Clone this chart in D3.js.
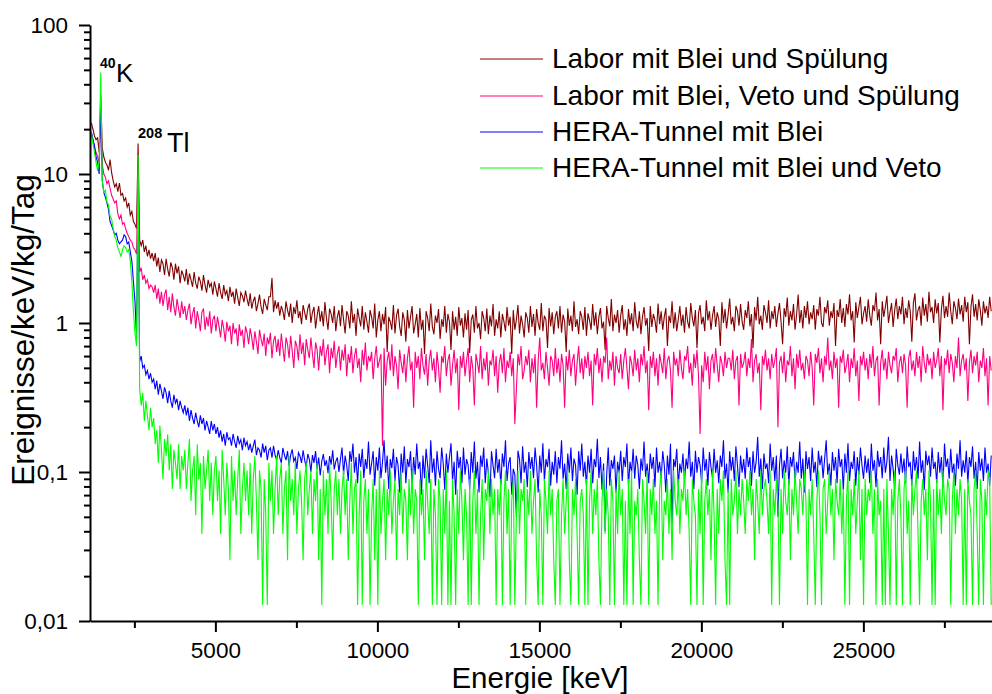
<!DOCTYPE html>
<html><head><meta charset="utf-8">
<script src="https://cdn.jsdelivr.net/npm/d3@7"></script>
<style>
body{margin:0;background:#fff}
svg{display:block}
text{font-family:"Liberation Sans",Arial,sans-serif;fill:#000}
</style>
</head><body>
<svg id="chart" width="992" height="694"></svg>
<script>
// ---- data ----
const energyStart = 1172.7;   // keV, first channel
const channelWidth = 48.05;   // keV per channel
const seriesNames = ["Labor mit Blei und Spülung","Labor mit Blei, Veto und Spülung","HERA-Tunnel mit Blei","HERA-Tunnel mit Blei und Veto"];
const seriesColors = ["#800000","#ff0080","#0000ff","#00ff00"];

const laborBlei = [
22,20,18,17,17.5,14,34,15,13,12,11.5,10.6,12.5,10.2,9.0,8.2,8.6,7.6,8.7,7.2,
7.4,6.6,6.9,6.0,6.4,5.3,5.6,4.8,4.6,4.3,16,3.6,3.3,3.6,3.0,3.3,2.8,3.1,2.7,2.95,
2.6,2.95,2.4,2.75,2.2,2.65,2.5,2.1,2.7,2.3,2.05,2.55,2.35,1.95,2.5,2.15,2.4,1.85,2.25,2.1,
1.9,2.3,1.8,2.15,1.95,1.75,2.2,1.85,1.7,2.05,1.9,1.65,2.1,1.8,1.6,1.95,1.75,1.85,1.55,1.9,
1.7,1.5,1.85,1.6,1.45,1.8,1.55,1.65,1.4,1.75,1.5,1.62,1.35,1.7,1.48,1.3,1.6,1.52,1.38,1.65,
1.45,1.3,1.58,1.25,1.4,1.5,1.2,1.35,1.55,1.28,1.15,1.45,1.32,1.22,1.5,1.5,2.0,1.18,1.42,1.25,
1.38,1.12,1.3,1.2,1.05,1.4,1.22,1.1,1.35,1.0,1.28,1.15,1.42,1.08,1.2,0.98,1.32,1.18,1.05,1.25,
1.35,1.0,1.18,1.28,0.92,1.12,1.3,1.02,1.2,0.95,1.38,1.08,0.9,1.25,1.15,1.0,1.3,0.88,1.1,1.22,
0.95,1.32,1.05,0.85,1.2,1.12,0.92,1.4,1.0,1.15,0.82,1.25,1.08,0.95,1.3,0.9,1.18,1.02,0.86,1.22,
1.1,0.92,1.35,0.8,1.05,1.2,0.88,1.15,0.98,1.28,0.64,1.1,1.02,0.9,1.32,0.85,1.12,1.25,0.95,0.82,
1.18,1.05,0.75,1.22,0.92,1.1,1.3,0.85,0.98,1.15,0.8,1.26,0.9,1.05,0.62,1.2,1.08,0.88,1.35,0.95,
0.84,1.12,1.0,1.24,0.78,1.06,0.94,1.3,0.86,1.15,1.02,0.66,1.2,0.9,1.1,0.82,1.28,0.96,1.08,0.8,
1.16,0.9,1.22,0.63,1.05,1.14,0.86,1.3,0.92,1.0,0.78,1.2,1.08,0.88,1.25,0.84,1.12,0.95,1.34,0.82,
1.06,0.92,1.2,0.8,1.15,1.02,0.88,1.28,0.96,1.1,0.62,1.22,0.9,1.05,1.32,0.85,1.12,0.98,0.8,1.18,
1.08,0.86,1.3,0.94,1.15,0.82,1.24,1.0,0.9,1.36,0.88,1.12,1.05,0.68,1.26,0.95,1.18,0.84,1.1,1.2,
0.92,1.3,0.86,1.14,1.02,0.64,1.25,0.96,1.12,0.88,1.4,0.94,1.06,0.84,1.2,1.1,0.9,1.28,0.82,1.16,
1.04,0.9,1.34,0.96,1.18,0.84,1.1,1.26,0.92,1.02,0.66,1.3,1.08,0.95,1.45,0.88,1.14,1.0,1.22,0.86,
1.12,1.32,0.9,1.06,0.82,1.24,0.98,1.16,0.88,1.38,1.02,0.92,1.2,0.84,1.1,1.28,0.96,1.08,0.65,1.3,
0.94,1.15,1.04,0.86,1.35,0.98,1.2,0.9,1.1,1.26,0.7,1.12,1.0,1.4,0.92,1.18,0.88,1.06,1.3,0.96,
1.14,0.86,1.28,1.02,0.92,1.36,1.08,0.95,1.22,0.68,1.16,1.32,0.98,1.1,0.88,1.42,1.04,1.2,0.9,1.12,
1.3,0.94,1.18,1.06,0.7,1.38,1.0,1.24,0.92,1.14,1.46,0.98,1.1,0.88,1.3,1.2,0.96,1.34,1.02,0.9,
1.22,1.08,1.4,0.95,1.15,0.68,1.28,1.04,1.5,0.98,1.12,0.9,1.32,1.18,1.0,1.42,0.92,1.2,1.06,1.3,
0.94,1.16,1.36,1.02,0.72,1.26,1.1,1.48,0.96,1.2,1.04,1.34,0.9,1.14,1.55,1.0,1.22,0.92,1.3,1.08,
1.4,0.98,1.18,1.06,1.32,0.9,1.24,1.12,1.5,1.0,0.94,1.28,1.16,1.42,0.96,1.2,1.08,1.36,0.7,1.22,
1.1,1.45,1.0,1.26,0.94,1.34,1.14,1.56,1.04,1.2,0.74,1.38,1.08,1.28,1.5,0.98,1.16,1.3,1.02,1.44,
1.12,0.96,1.32,1.2,1.6,1.04,1.24,0.72,1.4,1.1,1.28,1.52,1.0,1.18,1.36,0.94,1.22,1.46,1.06,1.3,
1.14,1.5,0.98,1.26,1.08,1.42,1.2,0.75,1.36,1.58,1.04,1.22,1.3,0.96,1.48,1.12,1.34,1.02,1.62,1.18,
1.28,1.0,1.44,1.16,1.36,0.74,1.24,1.52,1.08,1.3,1.1,1.6,1.2,0.98,1.4,1.26,1.06,1.46,1.14,1.32,
1.02,1.5,1.18,1.38,0.72,1.28,1.56,1.1,1.34,1.04,1.44,1.22,0.96,1.4,1.16,1.3,1.08,1.5,1.2];

const laborVeto = [
19,17,15,14,13,12,26,11.5,10,9.5,8.6,9,8.0,7.2,6.8,6.4,6.6,5.4,5.0,5.3,
4.6,4.7,4.3,4.0,3.8,3.6,3.5,3.2,3.1,2.9,10,2.2,2.35,1.95,2.1,1.85,1.95,1.7,1.8,1.75,
1.6,1.8,1.45,1.7,1.35,1.62,1.3,1.55,1.68,1.22,1.5,1.18,1.58,1.28,1.12,1.45,1.25,1.08,1.4,1.15,
1.3,1.05,1.22,1.35,0.98,1.15,1.28,0.92,1.2,1.05,0.88,1.18,1.25,0.9,1.1,0.95,1.2,0.85,1.05,1.12,
0.88,1.1,0.95,0.8,1.05,0.92,0.75,1.02,0.88,0.96,0.72,1.0,0.85,0.92,0.7,0.98,0.82,0.9,0.68,0.95,
0.86,0.72,0.92,0.8,0.66,0.88,0.75,0.62,0.9,0.78,0.7,0.85,0.6,0.8,0.72,0.86,0.58,0.76,0.82,0.64,
0.78,0.6,0.85,0.68,0.55,0.8,0.72,0.58,0.82,0.65,0.5,0.76,0.7,0.56,0.84,0.62,0.74,0.52,0.78,0.66,
0.58,0.8,0.62,0.5,0.74,0.66,0.48,0.7,0.6,0.78,0.52,0.64,0.72,0.46,0.68,0.58,0.76,0.5,0.62,0.7,
0.48,0.66,0.56,0.72,0.44,0.62,0.54,0.7,0.46,0.6,0.68,0.5,0.58,0.4,0.66,0.52,0.74,0.48,0.6,0.55,
0.64,0.42,0.58,0.7,0.5,0.56,0.62,0.15,0.68,0.38,0.56,0.64,0.48,0.72,0.44,0.6,0.52,0.36,0.66,0.54,
0.46,0.62,0.4,0.58,0.7,0.48,0.55,0.27,0.64,0.5,0.6,0.42,0.68,0.52,0.45,0.62,0.38,0.56,0.66,0.48,
0.58,0.4,0.64,0.5,0.34,0.6,0.54,0.7,0.44,0.56,0.62,0.38,0.52,0.66,0.46,0.58,0.26,0.6,0.5,0.64,
0.44,0.56,0.68,0.4,0.6,0.5,0.28,0.62,0.54,0.46,0.7,0.42,0.58,0.48,0.64,0.38,0.56,0.52,0.66,0.44,
0.6,0.34,0.54,0.62,0.46,0.68,0.4,0.56,0.5,0.64,0.44,0.58,0.21,0.36,0.62,0.52,0.7,0.42,0.48,0.6,
0.52,0.66,0.4,0.58,0.46,0.62,0.27,0.56,0.8,0.48,0.54,0.42,0.64,0.5,0.38,0.6,0.56,0.44,0.68,0.46,
0.58,0.4,0.62,0.52,0.27,0.6,0.48,0.66,0.44,0.56,0.62,0.38,0.54,0.7,0.46,0.58,0.42,0.6,0.5,0.64,
0.44,0.56,0.28,0.62,0.52,0.68,0.46,0.58,0.4,0.6,0.54,0.8,0.42,0.56,0.48,0.64,0.38,0.6,0.5,0.46,
0.62,0.42,0.56,0.68,0.5,0.36,0.6,0.54,0.44,0.66,0.48,0.58,0.4,0.62,0.52,0.7,0.46,0.56,0.26,0.6,
0.5,0.64,0.44,0.58,0.38,0.62,0.54,0.46,0.68,0.42,0.56,0.6,0.48,0.27,0.64,0.52,0.58,0.44,0.66,0.5,
0.42,0.6,0.56,0.7,0.46,0.54,0.38,0.62,0.5,0.66,0.44,0.18,0.52,0.4,0.64,0.48,0.6,0.36,0.56,0.62,
0.46,0.68,0.52,0.4,0.6,0.54,0.44,0.64,0.5,0.58,0.58,0.48,0.66,0.42,0.56,0.6,0.28,0.62,0.5,0.54,
0.64,0.44,0.58,0.5,0.78,0.4,0.56,0.62,0.46,0.54,0.26,0.6,0.52,0.66,0.48,0.58,0.42,0.62,0.5,0.56,
0.68,0.2,0.54,0.6,0.46,0.64,0.4,0.56,0.52,0.7,0.44,0.58,0.36,0.62,0.5,0.66,0.48,0.54,0.42,0.6,
0.56,0.44,0.64,0.5,0.28,0.62,0.54,0.68,0.46,0.58,0.4,0.6,0.52,0.8,0.48,0.56,0.42,0.64,0.5,0.58,
0.27,0.6,0.54,0.66,0.46,0.52,0.62,0.4,0.58,0.5,0.68,0.44,0.56,0.3,0.6,0.52,0.64,0.48,0.58,0.42,
0.62,0.5,0.7,0.44,0.56,0.6,0.28,0.54,0.66,0.48,0.58,0.42,0.64,0.52,0.46,0.6,0.56,0.68,0.4,0.54,
0.6,0.46,0.62,0.52,0.27,0.58,0.66,0.48,0.56,0.44,0.64,0.5,0.6,0.4,0.7,0.54,0.46,0.62,0.52,0.58,
0.42,0.64,0.5,0.56,0.68,0.44,0.6,0.26,0.58,0.52,0.66,0.46,0.62,0.54,0.4,0.6,0.5,0.8,0.44,0.56,
0.62,0.48,0.58,0.3,0.54,0.66,0.46,0.6,0.52,0.64,0.4,0.56,0.5,0.68,0.44,0.58,0.28,0.6,0.48];

const heraBlei = [
19,17,15.5,13,12,10,30,9,7.5,7.0,6.4,5.8,4.8,4.5,4.2,3.9,4.0,3.6,3.4,3.5,
3.6,3.9,3.8,3.4,3.5,3.0,2.6,1.9,1.4,0.8,8,0.55,0.6,0.5,0.52,0.45,0.48,0.42,0.46,0.4,
0.42,0.36,0.41,0.33,0.39,0.35,0.31,0.37,0.34,0.29,0.35,0.3,0.27,0.33,0.29,0.31,0.26,0.3,0.27,0.25,
0.28,0.24,0.27,0.22,0.26,0.23,0.21,0.25,0.22,0.2,0.24,0.21,0.23,0.19,0.22,0.2,0.18,0.22,0.19,0.21,
0.18,0.2,0.17,0.19,0.16,0.18,0.15,0.185,0.165,0.17,0.15,0.18,0.16,0.145,0.175,0.155,0.165,0.14,0.17,0.15,
0.16,0.14,0.155,0.135,0.15,0.165,0.13,0.145,0.14,0.125,0.155,0.135,0.15,0.12,0.14,0.145,0.125,0.15,0.13,0.12,
0.14,0.125,0.115,0.145,0.13,0.12,0.138,0.11,0.13,0.142,0.118,0.125,0.105,0.135,0.128,0.115,0.14,0.12,0.108,0.132,
0.122,0.1,0.13,0.115,0.138,0.105,0.125,0.095,0.118,0.132,0.11,0.12,0.098,0.128,0.112,0.14,0.104,0.118,0.125,0.1,
0.122,0.146,0.096,0.129,0.111,0.087,0.138,0.117,0.155,0.099,0.126,0.084,0.133,0.108,0.143,0.091,0.122,0.105,0.16,0.096,
0.114,0.138,0.081,0.126,0.102,0.146,0.091,0.117,0.163,0.099,0.129,0.077,0.122,0.106,0.143,0.087,0.126,0.111,0.073,0.133,
0.099,0.149,0.084,0.122,0.108,0.138,0.079,0.126,0.096,0.155,0.105,0.117,0.0705,0.129,0.091,0.143,0.111,0.084,0.163,0.099,
0.123,0.081,0.138,0.105,0.091,0.146,0.114,0.076,0.133,0.099,0.126,0.156,0.087,0.117,0.0705,0.139,0.106,0.126,0.084,0.146,
0.096,0.122,0.111,0.077,0.136,0.099,0.16,0.09,0.117,0.073,0.129,0.108,0.146,0.084,0.123,0.099,0.068,0.138,0.111,0.091,
0.143,0.099,0.122,0.081,0.133,0.108,0.163,0.087,0.114,0.126,0.0705,0.105,0.096,0.05,0.139,0.122,0.084,0.149,0.099,0.117,
0.079,0.136,0.105,0.126,0.091,0.146,0.111,0.073,0.129,0.099,0.156,0.087,0.122,0.108,0.143,0.081,0.117,0.096,0.138,0.084,
0.126,0.105,0.163,0.09,0.114,0.077,0.133,0.099,0.146,0.087,0.123,0.111,0.0705,0.138,0.102,0.155,0.093,0.117,0.081,0.129,
0.099,0.143,0.084,0.122,0.108,0.167,0.091,0.126,0.076,0.114,0.04,0.096,0.146,0.081,0.12,0.105,0.129,0.073,0.117,0.099,
0.139,0.087,0.126,0.108,0.155,0.081,0.117,0.099,0.143,0.09,0.129,0.111,0.077,0.123,0.102,0.16,0.093,0.114,0.084,0.133,
0.105,0.126,0.079,0.146,0.099,0.117,0.09,0.138,0.111,0.073,0.129,0.096,0.155,0.045,0.122,0.108,0.143,0.081,0.114,0.099,
0.133,0.087,0.123,0.105,0.16,0.093,0.117,0.077,0.139,0.099,0.126,0.111,0.084,0.146,0.102,0.122,0.081,0.136,0.108,0.091,
0.143,0.099,0.12,0.084,0.129,0.108,0.163,0.09,0.114,0.073,0.138,0.102,0.126,0.087,0.149,0.111,0.079,0.129,0.099,0.122,
0.09,0.146,0.108,0.126,0.081,0.138,0.099,0.117,0.172,0.093,0.123,0.077,0.133,0.105,0.114,0.084,0.155,0.102,0.126,0.087,
0.129,0.05,0.111,0.143,0.091,0.12,0.099,0.149,0.081,0.126,0.108,0.136,0.084,0.117,0.099,0.16,0.09,0.123,0.073,0.138,
0.105,0.126,0.087,0.146,0.099,0.117,0.079,0.139,0.111,0.129,0.091,0.122,0.163,0.096,0.114,0.081,0.136,0.102,0.126,0.084,
0.143,0.108,0.122,0.076,0.133,0.099,0.156,0.087,0.117,0.105,0.138,0.081,0.126,0.096,0.146,0.111,0.09,0.129,0.099,0.123,
0.084,0.155,0.102,0.12,0.079,0.139,0.108,0.126,0.091,0.146,0.099,0.117,0.172,0.087,0.129,0.105,0.077,0.143,0.111,0.096,
0.133,0.099,0.123,0.084,0.149,0.108,0.117,0.081,0.138,0.102,0.126,0.09,0.16,0.099,0.12,0.076,0.139,0.111,0.129,0.093,
0.146,0.105,0.117,0.084,0.136,0.099,0.126,0.079,0.155,0.108,0.123,0.09,0.143,0.099,0.114,0.081,0.133,0.105,0.163,0.093,
0.12,0.099,0.139,0.084,0.126,0.108,0.149,0.09,0.117,0.077,0.136,0.102,0.123,0.087,0.146,0.099,0.114,0.081,0.129];

const heraVeto = [
19,16,14,12,10.5,12,48,9,7.5,7.8,6.5,6.2,5.2,5.0,4.3,3.8,3.6,3.2,3.0,2.8,
3.1,3.3,3.2,3.0,3.1,2.6,1.9,1.2,0.85,0.7,13.4,0.36,0.28,0.34,0.22,0.3,0.24,0.19,0.27,0.2,
.2304,.1536,.192,.1152,.2048,.1408,.0896,.1664,.128,.1792,.1024,.1536,.0768,.1408,.1152,.0896,.1536,.0768,.128,.1024,
.1408,.0768,.1152,.1664,.064,.1024,.128,.0512,.1536,.0896,.1152,.0384,.128,.0768,.1024,.1408,.064,.1152,.0512,.1024,
.128,.064,.1024,.0384,.1408,.0896,.0512,.1152,.0768,.0256,.128,.064,.1024,.0512,.0896,.1408,.0384,.0768,.1152,.064,
.1024,.0512,.1152,.0384,.0896,.128,.064,.0256,.1024,.0768,.0128,.0896,.0512,.0128,.1152,.064,.1024,.0384,.0768,.128,
.0512,.0896,.1152,.0384,.0768,.1024,.0256,.128,.064,.0896,.0512,.1152,.0384,.0768,.1024,.064,.0256,.0896,.1152,.0512,
.0768,.1024,.0384,.0896,.064,.1152,.0256,.0768,.0128,.1024,.0512,.0896,.0384,.1152,.064,.0256,.0768,.1024,.0512,.0896,
.0384,.0768,.1024,.0512,.0896,.0256,.064,.1152,.0384,.0768,.0896,.0128,.0512,.1024,.0128,.064,.0896,.0384,.0768,.0128,
.0512,.0896,.0256,.0768,.0128,.1024,.0384,.064,.0896,.0256,.0768,.0512,.1024,.0384,.064,.0896,.0256,.0768,.0512,.1024,
.0384,.0768,.064,.0256,.0896,.0512,.1024,.0384,.0768,.064,.0128,.0896,.0512,.0768,.0256,.1024,.064,.0384,.0896,.0128,
.0768,.0512,.0128,.0896,.064,.0128,.0768,.0384,.1024,.0128,.064,.0128,.0896,.0512,.0128,.0768,.0384,.1024,.064,.0256,
.0768,.0512,.0128,.0896,.0128,.064,.1024,.0384,.0768,.0128,.0512,.0896,.0256,.0768,.064,.1024,.0384,.0896,.0512,.0768,
.0128,.0768,.0512,.0896,.0128,.064,.1024,.0384,.0768,.0128,.064,.0896,.0128,.0512,.1024,.0384,.0768,.064,.0896,.0128,
.0768,.0512,.1024,.0384,.064,.0896,.0256,.0128,.0768,.0512,.0128,.0896,.064,.0384,.1024,.0512,.0768,.0256,.0128,.064,
.0768,.0128,.0512,.0896,.0384,.064,.1024,.0256,.0128,.0768,.0512,.0896,.0384,.0128,.064,.0768,.0512,.0128,.0896,.0128,
.064,.1024,.0384,.0768,.0512,.0896,.0256,.0128,.064,.1024,.0384,.0768,.0512,.0128,.0896,.064,.0128,.0768,.0384,.1024,
.0512,.0768,.0128,.064,.0128,.0896,.0384,.1024,.0128,.064,.0512,.0768,.0256,.0128,.0896,.064,.0384,.1024,.0128,.0768,
.0512,.0896,.0384,.064,.0128,.0768,.1024,.0256,.064,.0512,.0896,.0384,.0768,.0256,.1024,.064,.0512,.0896,.0384,.0768,
.064,.1024,.0512,.0768,.0384,.0128,.0896,.064,.0512,.0128,.0768,.0384,.1024,.0128,.064,.0896,.0512,.0768,.0256,.1024,
.0512,.0128,.0768,.0384,.0896,.064,.1024,.0256,.0128,.0768,.0128,.0896,.0512,.064,.1024,.0384,.0768,.0512,.0896,.064,
.0384,.0896,.064,.1024,.0512,.0768,.0256,.0896,.064,.0384,.1024,.0512,.0768,.0896,.064,.0384,.1024,.0128,.0768,.0512,
.0896,.064,.0128,.0768,.0384,.1024,.064,.0512,.0896,.0256,.0768,.0512,.1024,.064,.0384,.0896,.0768,.0512,.1024,.064,
.0128,.0768,.0512,.0896,.0384,.0128,.064,.1024,.0512,.0128,.0768,.0896,.0384,.064,.1024,.0512,.0768,.0256,.0896,.064,
.0512,.0896,.0384,.0768,.0128,.064,.1024,.0128,.0768,.0512,.0896,.0384,.064,.1024,.0256,.0768,.0128,.0896,.0512,.0768,
.064,.1024,.0384,.0768,.0128,.0896,.0512,.064,.0128,.0768,.0128,.0896,.0384,.0128,.0768,.0512,.1024,.0128,.064,.0896,
.0512,.0128,.0768,.1024,.0384,.064,.0128,.0896,.0512,.0768,.1024,.0384,.0128,.064,.0896,.0512,.0768,.0256,.1024,.064,
.0128,.0768,.0128,.0896,.0512,.0768,.0384,.1024,.064,.0512,.0896,.0768,.0128,.064,.1024,.0384,.0768,.0512,.0896,.064,
.0128,.0768,.0128,.0896,.064,.0512,.0128,.0768,.1024,.0384,.0128,.0896,.064,.0128,.0768,.0512,.1024,.0896,.0128];

const seriesValues = [laborBlei, laborVeto, heraBlei, heraVeto];

const xTickValues = [5000,10000,15000,20000,25000];
const xMinorTicks = [2500,7500,12500,17500,22500,27500];
const yTickValues = [0.01,0.1,1,10,100];
const yTickLabels = ["0,01","0,1","1","10","100"];
const xTitle = "Energie [keV]";
const yTitle = "Ereignisse/keV/kg/Tag";

// ---- drawing ----
const svg = d3.select("#chart");
const x = d3.scaleLinear().domain([1130, 28970]).range([90, 992]);
const y = d3.scaleLog().domain([0.01, 100]).range([621, 25]);

const yMinor = [];
[0.01,0.1,1,10].forEach(d => { for (let k = 2; k <= 9; k++) yMinor.push(d*k); });

// series
const line = d3.line()
  .x((d,i) => x(energyStart + i*channelWidth))
  .y(d => y(d));
svg.append("g").selectAll("path").data(seriesValues).join("path")
  .attr("d", d => line(d))
  .attr("fill","none")
  .attr("stroke",(d,i)=>seriesColors[i])
  .attr("stroke-width",1.1);

// y axis
svg.append("g").attr("transform","translate(90,0)")
  .call(d3.axisLeft(y).tickValues(yTickValues).tickSize(11).tickSizeOuter(0).tickPadding(11)
  .tickFormat((d,i)=>yTickLabels[i]));
svg.append("g").attr("transform","translate(90,0)")
  .call(d3.axisLeft(y).tickValues(yMinor).tickSize(6).tickSizeOuter(0).tickFormat(""))
  .call(g=>g.select(".domain").remove());

// x axis
svg.append("g").attr("transform","translate(0,621)")
  .call(d3.axisBottom(x).tickValues(xTickValues).tickSize(11).tickSizeOuter(0).tickPadding(10)
  .tickFormat(d3.format("d")));
svg.append("g").attr("transform","translate(0,621)")
  .call(d3.axisBottom(x).tickValues(xMinorTicks).tickSize(7).tickSizeOuter(0).tickFormat(""))
  .call(g=>g.select(".domain").remove());

svg.selectAll(".domain").attr("stroke","#000").attr("stroke-width",2);
svg.selectAll(".tick line").attr("stroke","#000").attr("stroke-width",2);
svg.selectAll(".tick text").attr("font-size",22.5).attr("font-family","'Liberation Sans',Arial,sans-serif").attr("fill","#000");

// titles
svg.append("text").attr("x",540).attr("y",688).attr("text-anchor","middle")
  .attr("font-size",29.5).text(xTitle);
svg.append("text").attr("transform","translate(34,330) rotate(-90)").attr("text-anchor","middle")
  .attr("font-size",31.5).text(yTitle);

// annotations
const ann = svg.append("g");
ann.append("text").attr("x",100).attr("y",68).attr("font-size",14).attr("font-weight","bold").text("40");
ann.append("text").attr("x",116).attr("y",82).attr("font-size",26).text("K");
ann.append("text").attr("x",138).attr("y",138).attr("font-size",14.5).attr("font-weight","bold").text("208");
ann.append("text").attr("x",167).attr("y",152).attr("font-size",27).text("Tl");

// legend
const legend = svg.append("g");
const legendY = [59,96,132,168];
seriesNames.forEach((n,i)=>{
  legend.append("line").attr("x1",480).attr("x2",543).attr("y1",legendY[i]).attr("y2",legendY[i])
    .attr("stroke",seriesColors[i]).attr("stroke-width",1);
  legend.append("text").attr("x",552).attr("y",legendY[i]+9).attr("font-size",28).text(n);
});
</script>
</body></html>
